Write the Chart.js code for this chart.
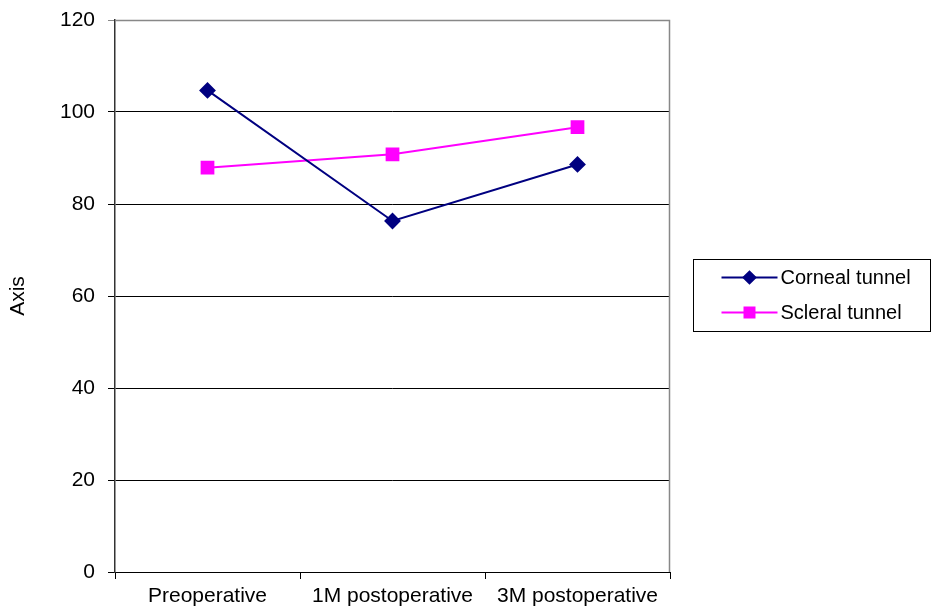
<!DOCTYPE html>
<html><head><meta charset="utf-8">
<script src="https://cdn.jsdelivr.net/npm/chart.js@4"></script>
<style>html,body{margin:0;padding:0;background:#fff}#wrap{width:931px;height:610px}</style>
</head><body><div id="wrap"><canvas id="c" width="931" height="610"></canvas></div>
<script>
const categories = ["Preoperative", "1M postoperative", "3M postoperative"];
const cornealTunnel = [104.7, 76.3, 88.6];
const scleralTunnel = [87.9, 90.8, 96.7];
const yTicks = [0, 20, 40, 60, 80, 100, 120];

const FONT = "'Liberation Sans', Arial, sans-serif";
const FS = 21;

const frame = {
  id: 'frame',
  beforeDatasetsDraw(chart) {
    const a = chart.chartArea, ctx = chart.ctx;
    ctx.save();
    ctx.strokeStyle = '#888';
    ctx.lineWidth = 1.5;
    ctx.beginPath();
    ctx.moveTo(a.left, a.top + 0.5);
    ctx.lineTo(a.right - 0.5, a.top + 0.5);
    ctx.lineTo(a.right - 0.5, a.bottom);
    ctx.stroke();
    ctx.restore();
  },
  afterDraw(chart) {
    const ctx = chart.ctx;
    const bx = 693.5, by = 259.5, bw = 237, bh = 72;
    ctx.save();
    ctx.strokeStyle = '#000'; ctx.lineWidth = 1;
    ctx.strokeRect(bx, by, bw, bh);
    ctx.font = '20px ' + FONT;
    ctx.textBaseline = 'middle';
    chart.data.datasets.forEach((ds, i) => {
      const y = by + 18 + i * 35;
      ctx.strokeStyle = ds.borderColor; ctx.lineWidth = 2;
      ctx.beginPath(); ctx.moveTo(bx + 28, y); ctx.lineTo(bx + 84, y); ctx.stroke();
      ctx.fillStyle = ds.borderColor;
      ctx.strokeStyle = ds.borderColor;
      Chart.helpers.drawPoint(ctx, {pointStyle: ds.pointStyle, radius: ds.pointRadius * 0.85, borderWidth: 1}, bx + 56, y);
      ctx.fill();
      ctx.fillStyle = '#000';
      ctx.fillText(ds.label, bx + 87, y + 1);
    });
    ctx.restore();
  }
};

new Chart(document.getElementById('c'), {
  type: 'line',
  data: {
    labels: categories,
    datasets: [
      { label: 'Corneal tunnel', data: cornealTunnel, borderColor: '#000080', backgroundColor: '#000080',
        borderWidth: 2, pointStyle: 'rectRot', pointRadius: 7, pointHoverRadius: 7, tension: 0 },
      { label: 'Scleral tunnel', data: scleralTunnel, borderColor: '#ff00ff', backgroundColor: '#ff00ff',
        borderWidth: 2, pointStyle: 'rect', pointRadius: 8.3, pointHoverRadius: 8.3, tension: 0 }
    ]
  },
  options: {
    responsive: false,
    animation: false,
    layout: { padding: { top: 20, right: 261, left: 0, bottom: 0 } },
    plugins: { legend: { display: false }, tooltip: { enabled: false } },
    scales: {
      x: {
        type: 'category', offset: true,
        grid: { display: true, offset: true, drawOnChartArea: false, tickLength: 7, color: '#000', lineWidth: 1 },
        border: { display: true, color: '#000', width: 1 },
        ticks: { color: '#000', font: { family: FONT, size: FS }, padding: 5, maxRotation: 0, autoSkip: false },
        afterFit(s) { s.height = 38; s.paddingLeft = 0; s.paddingRight = 0; }
      },
      y: {
        min: 0, max: 120,
        afterBuildTicks(s) { s.ticks = yTicks.map(v => ({ value: v })); },
        grid: {
          tickLength: 7,
          color: ctx => (ctx.tick && ctx.tick.value === 120) ? '#888' : '#000',
          lineWidth: 1
        },
        border: { display: true, color: '#333', width: 1.5 },
        ticks: { color: '#000', font: { family: FONT, size: FS }, padding: 13 },
        title: { display: true, text: 'Axis', color: '#000', font: { family: FONT, size: FS }, padding: { top: 6, bottom: 0 } },
        afterFit(s) { s.width = 115; s.paddingTop = 0; s.paddingBottom = 0; }
      }
    }
  },
  plugins: [frame]
});
</script></body></html>
